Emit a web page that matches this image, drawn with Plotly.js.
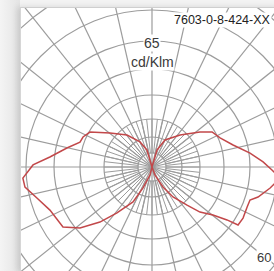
<!DOCTYPE html>
<html>
<head>
<meta charset="utf-8">
<script src="https://cdn.plot.ly/plotly-3.0.1.min.js"></script>
<style>
  html, body { margin:0; padding:0; width:274px; height:271px; overflow:hidden; background:#f3f3f3; font-family:"Liberation Sans", Arial, sans-serif; }
  #shade { position:absolute; left:0; top:0; width:20px; height:271px; background:linear-gradient(to right, #f4f4f4, #e4e4e4); }
  #box { position:absolute; left:20px; top:7px; width:260px; height:264px; background:#fff; border-top:1px solid #cfcfcf; border-left:1px solid #d6d6d6; overflow:hidden; box-shadow:-3px 0 6px rgba(0,0,0,0.12); }
  #chart { position:absolute; left:-99px; top:-71px; width:460px; height:460px; }
</style>
</head>
<body>
<div id="shade"></div>
<div id="box"><div id="chart"></div></div>
<script>
// Luminous intensity (cd/klm), angle measured from nadir (0 = down), + = right half (C0), - = left half (C180)
const thetaRight = [0, 20.6, 28.8, 35, 42.6, 46.8, 51.8, 54.8, 56, 60.7, 67.2, 71.4, 74.2, 79.9, 85.1, 88.6, 92.6, 98.1, 105.2, 113.1, 120.3, 126.1, 138.8, 154.3, 163.6, 180];
const rRight     = [0, 4.3, 11.4, 18.3, 25.9, 32.9, 38.8, 45.9, 51.9, 52.2, 51.6, 51.7, 55.1, 60, 64.3, 60, 55.6, 49.5, 42, 37, 34.8, 29.7, 21.3, 15, 8.9, 0];
const thetaLeft  = [-180, -163.6, -154.4, -142, -129, -119.4, -113.5, -109.1, -102.6, -95.6, -91, -85.1, -81, -74.9, -67.1, -56, -49.7, -43.4, -37.3, -28.5, -23.2, -14, 0];
const rLeft      = [0, 8.9, 13.9, 20.3, 27, 35.6, 37.6, 38.1, 43.6, 51.3, 59.5, 64.8, 64.3, 59.6, 55.4, 53.7, 47.2, 37.9, 28.9, 19.9, 11.4, 4.1, 0];
// grid rings (cd/klm) and labels
const ringValues = [7, 15, 24, 36, 49, 63, 78.5, 95.5, 113.5];
const scaleLabel = "65";
const unitLabel = "cd/Klm";
const productCode = "7603-0-8-424-XX";
const angleLabel = "60";

const gridColor = "#9c9c9c";
const curveColor = "#c2484a";

const traces = [
  { type:"scatterpolar", subplot:"polar", r:[], theta:[], mode:"lines", hoverinfo:"skip", showlegend:false },
  { type:"scatterpolar", subplot:"polar2", r:rLeft.concat(rRight.slice(1)), theta:thetaLeft.concat(thetaRight.slice(1)),
    mode:"lines", line:{color:curveColor, width:1.5}, hoverinfo:"skip", showlegend:false }
];

const inner = 48/460;
const txt = (s, x, y, size, color, xa) => ({text:s, xref:"paper", yref:"paper", x:x, y:y, xanchor:xa, yanchor:"middle",
  showarrow:false, font:{family:"Liberation Sans, Arial", size:size, color:color}, bgcolor:"#fff", borderpad:0});
const layout = {
  width:460, height:460, margin:{l:0,r:0,t:0,b:0},
  paper_bgcolor:"rgba(0,0,0,0)", plot_bgcolor:"rgba(0,0,0,0)",
  showlegend:false,
  polar:{
    domain:{x:[0.5-inner,0.5+inner], y:[0.5-inner,0.5+inner]},
    hole:0.29, bgcolor:"rgba(0,0,0,0)",
    radialaxis:{showgrid:false, showticklabels:false, showline:false, ticks:"", range:[0,1]},
    angularaxis:{rotation:-90, direction:"counterclockwise", dtick:360/56, tick0:0, showgrid:true, gridcolor:gridColor, gridwidth:1, showticklabels:false, showline:false, ticks:""}
  },
  polar2:{
    domain:{x:[0,1], y:[0,1]}, bgcolor:"rgba(0,0,0,0)",
    radialaxis:{range:[0,115], tickmode:"array", tickvals:ringValues, showgrid:true, gridcolor:gridColor, gridwidth:1.2, showticklabels:false, showline:false, ticks:""},
    angularaxis:{rotation:-90, direction:"counterclockwise", dtick:360/28, tick0:0, showgrid:true, gridcolor:gridColor, gridwidth:1.2, showticklabels:false, showline:false, ticks:""}
  },
  annotations:[
    txt(scaleLabel, 0.5, 1-106/460, 14, "#3a3a3a", "center"),
    txt(unitLabel, 0.5, 1-125/460, 14, "#3a3a3a", "center"),
    txt(productCode, 251/460, 1-83/460, 12.5, "#222", "left"),
    txt(angleLabel, 334/460, 1-320/460, 13, "#3a3a3a", "left")
  ]
};
Plotly.newPlot("chart", traces, layout, {staticPlot:true, displayModeBar:false});
</script>
</body>
</html>
